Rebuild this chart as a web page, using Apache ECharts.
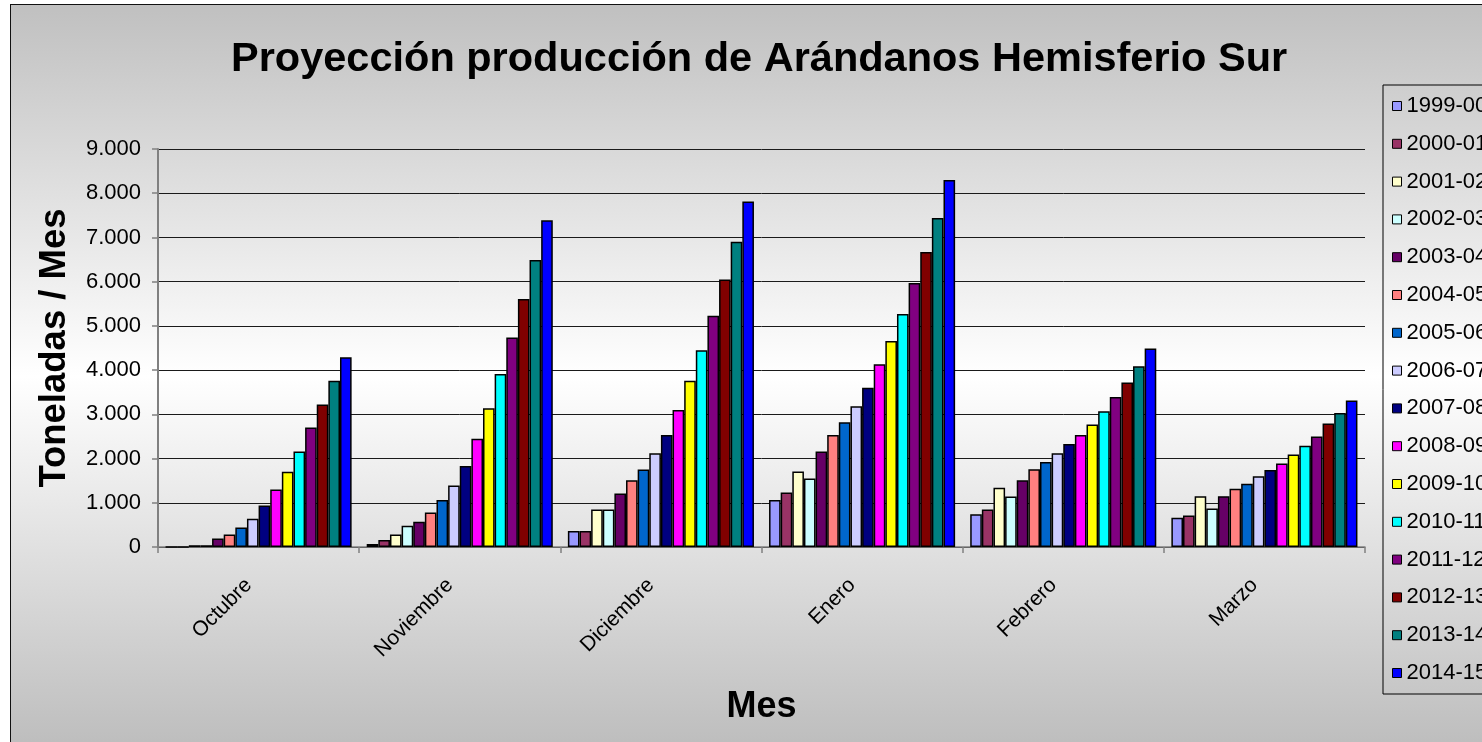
<!DOCTYPE html>
<html>
<head>
<meta charset="utf-8">
<script src="https://cdn.jsdelivr.net/npm/echarts@6/dist/echarts.min.js"></script>
<style>
html,body{margin:0;padding:0;background:#fff;overflow:hidden;width:1482px;height:742px;}
#frame{position:absolute;left:10px;top:4px;width:1600px;height:742px;border:1.5px solid #111;
background:linear-gradient(to bottom,#c0c0c0 0%,#ffffff 50%,#bdbdbd 100%);}
#chart{position:absolute;left:0;top:0;width:1482px;height:742px;}
</style>
</head>
<body>
<div id="frame"></div>
<div id="chart"></div>
<script>
const months = ['Octubre','Noviembre','Diciembre','Enero','Febrero','Marzo'];
const seasons = ['1999-00','2000-01','2001-02','2002-03','2003-04','2004-05','2005-06','2006-07',
                 '2007-08','2008-09','2009-10','2010-11','2011-12','2012-13','2013-14','2014-15'];
const yTicks = [0,1000,2000,3000,4000,5000,6000,7000,8000,9000];

const v1999_00 = [0, 70, 360, 1060, 740, 660];
const v2000_01 = [0, 160, 360, 1230, 850, 710];
const v2001_02 = [40, 280, 850, 1710, 1340, 1150];
const v2002_03 = [40, 480, 850, 1550, 1140, 870];
const v2003_04 = [190, 570, 1210, 2160, 1510, 1150];
const v2004_05 = [280, 780, 1510, 2530, 1760, 1320];
const v2005_06 = [440, 1060, 1750, 2820, 1920, 1430];
const v2006_07 = [640, 1390, 2120, 3180, 2120, 1600];
const v2007_08 = [940, 1830, 2530, 3600, 2330, 1740];
const v2008_09 = [1300, 2450, 3100, 4130, 2530, 1890];
const v2009_10 = [1700, 3140, 3760, 4660, 2770, 2090];
const v2010_11 = [2160, 3910, 4450, 5270, 3070, 2290];
const v2011_12 = [2700, 4740, 5230, 5970, 3390, 2500];
const v2012_13 = [3220, 5610, 6050, 6670, 3720, 2790];
const v2013_14 = [3760, 6490, 6900, 7440, 4090, 3030];
const v2014_15 = [4290, 7390, 7810, 8300, 4490, 3310];

const seriesValues = [v1999_00,v2000_01,v2001_02,v2002_03,v2003_04,v2004_05,v2005_06,v2006_07,
                      v2007_08,v2008_09,v2009_10,v2010_11,v2011_12,v2012_13,v2013_14,v2014_15];
const colors = ['#9999FF','#993366','#FFFFCC','#CCFFFF','#660066','#FF8080','#0066CC','#CCCCFF',
                '#000080','#FF00FF','#FFFF00','#00FFFF','#800080','#800000','#008080','#0000FF'];

const FONT = '"Liberation Sans", Arial, sans-serif';
const chart = echarts.init(document.getElementById('chart'), null, {renderer:'canvas'});

const series = seasons.map((name, i) => ({
  name: name,
  type: 'bar',
  data: seriesValues[i],
  barGap: '0%',
  barCategoryGap: '7.5%',
  itemStyle: {color: colors[i], borderColor: '#000', borderWidth: 1.5},
  emphasis: {disabled: true}
}));

chart.setOption({
  animation: false,
  backgroundColor: 'transparent',
  textStyle: {fontFamily: FONT},
  title: {
    text: 'Proyección producción de Arándanos Hemisferio Sur',
    left: 231, top: 39, padding: 0,
    textStyle: {fontFamily: FONT, fontSize: 41.5, fontWeight: 'bold', color: '#000'}
  },
  legend: {
    orient: 'vertical',
    left: 1383, top: 85,
    padding: [10, 20, 10, 9],
    itemGap: 15.8,
    itemWidth: 9, itemHeight: 9,
    itemTextGap: 4,
    icon: 'rect',
    borderColor: '#000', borderWidth: 1,
    selectedMode: false,
    itemStyle: {borderColor: '#000', borderWidth: 1},
    textStyle: {fontFamily: FONT, fontSize: 22, color: '#000', lineHeight: 22},
    data: seasons
  },
  grid: {left: 158, top: 149, width: 1207, height: 398, containLabel: false},
  xAxis: {
    type: 'category',
    data: months,
    name: 'Mes',
    nameLocation: 'middle',
    nameGap: 142,
    nameTextStyle: {fontFamily: FONT, fontSize: 36, fontWeight: 'bold', color: '#000'},
    axisLine: {lineStyle: {color: '#808080', width: 1.5}},
    axisTick: {show: true, length: 6, lineStyle: {color: '#808080', width: 1.5}},
    axisLabel: {rotate: 45, margin: 25, padding: [0, 14, 0, 0], fontFamily: FONT, fontSize: 21, color: '#000'}
  },
  yAxis: {
    type: 'value',
    min: 0, max: 9000, interval: 1000,
    name: 'Toneladas / Mes',
    nameLocation: 'middle',
    nameGap: 85,
    nameRotate: 90,
    nameTextStyle: {fontFamily: FONT, fontSize: 36.5, fontWeight: 'bold', color: '#000'},
    axisLine: {show: true, lineStyle: {color: '#808080', width: 2}},
    axisTick: {show: true, length: 6, lineStyle: {color: '#808080', width: 1.5}},
    axisLabel: {
      margin: 17, fontFamily: FONT, fontSize: 22, color: '#000',
      formatter: function (v) {
        return String(v).replace(/\B(?=(\d{3})+(?!\d))/g, '.');
      }
    },
    splitLine: {show: true, lineStyle: {color: '#1a1a1a', width: 1}}
  },
  series: series
});
</script>
</body>
</html>
